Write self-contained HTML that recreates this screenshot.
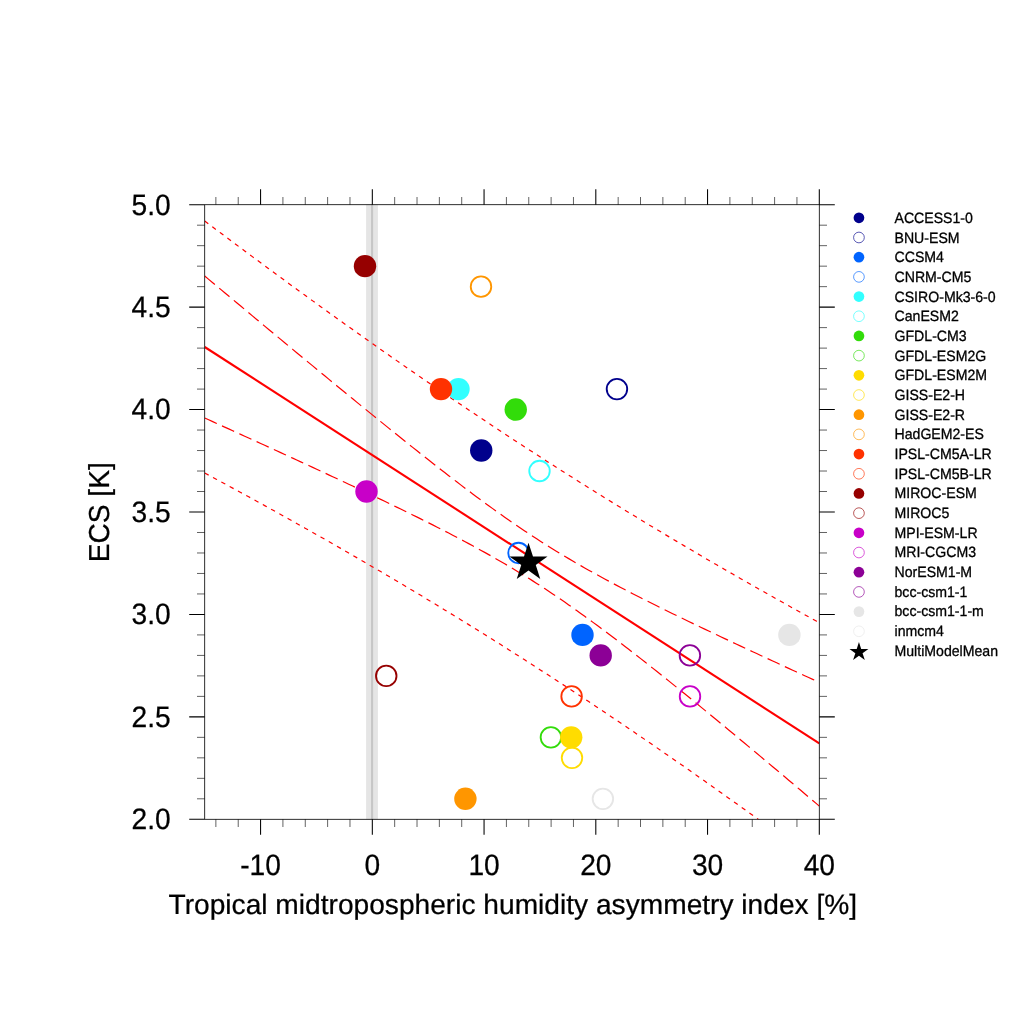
<!DOCTYPE html>
<html><head><meta charset="utf-8"><title>ECS scatter</title>
<style>html,body{margin:0;padding:0;background:#fff;overflow:hidden}svg{display:block;will-change:transform}text{font-family:"Liberation Sans",sans-serif;fill:#000;text-rendering:geometricPrecision}</style></head><body>
<svg width="1024" height="1024" viewBox="0 0 1024 1024">
<rect width="1024" height="1024" fill="#fff"/>
<rect x="366.1" y="204.7" width="11.8" height="614.6" fill="#e5e5e5"/>
<rect x="371.05" y="204.7" width="2.1" height="614.6" fill="#c6c6c6"/>
<defs><clipPath id="c"><rect x="204.7" y="204.7" width="614.6" height="614.6"/></clipPath></defs>
<g clip-path="url(#c)" fill="none" stroke="#ff0000">
<path d="M204.70,221.02 L208.70,224.03 L212.70,227.04 L216.70,230.04 L220.70,233.04 L224.70,236.03 L228.70,239.03 L232.70,242.01 L236.70,245.00 L240.70,247.98 L244.70,250.95 L248.70,253.92 L252.70,256.89 L256.70,259.85 L260.70,262.81 L264.70,265.77 L268.70,268.72 L272.70,271.66 L276.70,274.61 L280.70,277.54 L284.70,280.48 L288.70,283.40 L292.70,286.33 L296.70,289.25 L300.70,292.16 L304.70,295.07 L308.70,297.98 L312.70,300.88 L316.70,303.77 L320.70,306.66 L324.70,309.55 L328.70,312.43 L332.70,315.31 L336.70,318.18 L340.70,321.05 L344.70,323.91 L348.70,326.76 L352.70,329.61 L356.70,332.46 L360.70,335.30 L364.70,338.14 L368.70,340.97 L372.70,343.79 L376.70,346.61 L380.70,349.43 L384.70,352.23 L388.70,355.04 L392.70,357.84 L396.70,360.63 L400.70,363.42 L404.70,366.20 L408.70,368.97 L412.70,371.74 L416.70,374.51 L420.70,377.27 L424.70,380.02 L428.70,382.77 L432.70,385.51 L436.70,388.24 L440.70,390.97 L444.70,393.70 L448.70,396.42 L452.70,399.13 L456.70,401.84 L460.70,404.54 L464.70,407.23 L468.70,409.92 L472.70,412.60 L476.70,415.28 L480.70,417.95 L484.70,420.61 L488.70,423.27 L492.70,425.93 L496.70,428.57 L500.70,431.21 L504.70,433.85 L508.70,436.48 L512.70,439.10 L516.70,441.71 L520.70,444.32 L524.70,446.93 L528.70,449.53 L532.70,452.12 L536.70,454.70 L540.70,457.28 L544.70,459.85 L548.70,462.42 L552.70,464.98 L556.70,467.54 L560.70,470.09 L564.70,472.63 L568.70,475.16 L572.70,477.69 L576.70,480.22 L580.70,482.74 L584.70,485.25 L588.70,487.75 L592.70,490.25 L596.70,492.75 L600.70,495.24 L604.70,497.72 L608.70,500.19 L612.70,502.66 L616.70,505.13 L620.70,507.58 L624.70,510.04 L628.70,512.48 L632.70,514.92 L636.70,517.36 L640.70,519.78 L644.70,522.21 L648.70,524.62 L652.70,527.04 L656.70,529.44 L660.70,531.84 L664.70,534.23 L668.70,536.62 L672.70,539.01 L676.70,541.38 L680.70,543.75 L684.70,546.12 L688.70,548.48 L692.70,550.84 L696.70,553.19 L700.70,555.53 L704.70,557.87 L708.70,560.20 L712.70,562.53 L716.70,564.85 L720.70,567.17 L724.70,569.48 L728.70,571.79 L732.70,574.09 L736.70,576.39 L740.70,578.68 L744.70,580.97 L748.70,583.25 L752.70,585.53 L756.70,587.80 L760.70,590.07 L764.70,592.33 L768.70,594.59 L772.70,596.85 L776.70,599.10 L780.70,601.34 L784.70,603.58 L788.70,605.81 L792.70,608.04 L796.70,610.27 L800.70,612.49 L804.70,614.71 L808.70,616.92 L812.70,619.13 L816.70,621.33 L819.30,622.76" stroke-width="1.2" stroke-dasharray="4.5 4.95"/>
<path d="M204.70,472.98 L208.70,475.13 L212.70,477.28 L216.70,479.44 L220.70,481.60 L224.70,483.76 L228.70,485.93 L232.70,488.11 L236.70,490.28 L240.70,492.46 L244.70,494.65 L248.70,496.83 L252.70,499.03 L256.70,501.22 L260.70,503.42 L264.70,505.63 L268.70,507.84 L272.70,510.05 L276.70,512.27 L280.70,514.49 L284.70,516.72 L288.70,518.95 L292.70,521.19 L296.70,523.43 L300.70,525.67 L304.70,527.92 L308.70,530.18 L312.70,532.44 L316.70,534.70 L320.70,536.97 L324.70,539.24 L328.70,541.52 L332.70,543.81 L336.70,546.09 L340.70,548.39 L344.70,550.69 L348.70,552.99 L352.70,555.30 L356.70,557.61 L360.70,559.93 L364.70,562.25 L368.70,564.58 L372.70,566.92 L376.70,569.26 L380.70,571.60 L384.70,573.96 L388.70,576.31 L392.70,578.67 L396.70,581.04 L400.70,583.41 L404.70,585.79 L408.70,588.18 L412.70,590.57 L416.70,592.96 L420.70,595.36 L424.70,597.77 L428.70,600.18 L432.70,602.60 L436.70,605.02 L440.70,607.45 L444.70,609.89 L448.70,612.33 L452.70,614.78 L456.70,617.23 L460.70,619.69 L464.70,622.15 L468.70,624.63 L472.70,627.10 L476.70,629.59 L480.70,632.07 L484.70,634.57 L488.70,637.07 L492.70,639.58 L496.70,642.09 L500.70,644.61 L504.70,647.14 L508.70,649.67 L512.70,652.21 L516.70,654.75 L520.70,657.30 L524.70,659.85 L528.70,662.42 L532.70,664.99 L536.70,667.56 L540.70,670.14 L544.70,672.73 L548.70,675.32 L552.70,677.92 L556.70,680.52 L560.70,683.14 L564.70,685.75 L568.70,688.38 L572.70,691.01 L576.70,693.64 L580.70,696.28 L584.70,698.93 L588.70,701.58 L592.70,704.24 L596.70,706.91 L600.70,709.58 L604.70,712.26 L608.70,714.95 L612.70,717.64 L616.70,720.33 L620.70,723.03 L624.70,725.74 L628.70,728.45 L632.70,731.17 L636.70,733.90 L640.70,736.63 L644.70,739.37 L648.70,742.11 L652.70,744.86 L656.70,747.61 L660.70,750.37 L664.70,753.14 L668.70,755.91 L672.70,758.69 L676.70,761.47 L680.70,764.26 L684.70,767.05 L688.70,769.85 L692.70,772.66 L696.70,775.47 L700.70,778.28 L704.70,781.10 L708.70,783.93 L712.70,786.76 L716.70,789.60 L720.70,792.44 L724.70,795.29 L728.70,798.14 L732.70,801.00 L736.70,803.86 L740.70,806.73 L744.70,809.60 L748.70,812.48 L752.70,815.36 L756.70,818.25 L760.70,821.14 L764.70,824.03 L768.70,826.94 L772.70,829.84 L776.70,832.75 L780.70,835.67 L784.70,838.59 L788.70,841.51 L792.70,844.44 L796.70,847.38 L800.70,850.32 L804.70,853.26 L808.70,856.20 L812.70,859.16 L816.70,862.11 L819.30,864.04" stroke-width="1.2" stroke-dasharray="4.5 4.95"/>
<path d="M204.70,276.00 L208.70,279.35 L212.70,282.69 L216.70,286.04 L220.70,289.38 L224.70,292.72 L228.70,296.07 L232.70,299.41 L236.70,302.75 L240.70,306.08 L244.70,309.42 L248.70,312.76 L252.70,316.09 L256.70,319.43 L260.70,322.76 L264.70,326.09 L268.70,329.42 L272.70,332.74 L276.70,336.07 L280.70,339.39 L284.70,342.72 L288.70,346.04 L292.70,349.35 L296.70,352.67 L300.70,355.98 L304.70,359.30 L308.70,362.61 L312.70,365.91 L316.70,369.22 L320.70,372.52 L324.70,375.82 L328.70,379.12 L332.70,382.41 L336.70,385.70 L340.70,388.99 L344.70,392.27 L348.70,395.55 L352.70,398.83 L356.70,402.10 L360.70,405.37 L364.70,408.63 L368.70,411.89 L372.70,415.15 L376.70,418.40 L380.70,421.64 L384.70,424.88 L388.70,428.12 L392.70,431.34 L396.70,434.57 L400.70,437.78 L404.70,440.99 L408.70,444.19 L412.70,447.38 L416.70,450.56 L420.70,453.73 L424.70,456.90 L428.70,460.05 L432.70,463.20 L436.70,466.33 L440.70,469.45 L444.70,472.56 L448.70,475.66 L452.70,478.74 L456.70,481.81 L460.70,484.86 L464.70,487.90 L468.70,490.92 L472.70,493.92 L476.70,496.90 L480.70,499.87 L484.70,502.81 L488.70,505.73 L492.70,508.63 L496.70,511.51 L500.70,514.36 L504.70,517.19 L508.70,519.99 L512.70,522.77 L516.70,525.52 L520.70,528.24 L524.70,530.93 L528.70,533.59 L532.70,536.23 L536.70,538.84 L540.70,541.41 L544.70,543.96 L548.70,546.48 L552.70,548.97 L556.70,551.43 L560.70,553.86 L564.70,556.27 L568.70,558.64 L572.70,561.00 L576.70,563.32 L580.70,565.62 L584.70,567.90 L588.70,570.16 L592.70,572.39 L596.70,574.60 L600.70,576.79 L604.70,578.96 L608.70,581.12 L612.70,583.25 L616.70,585.37 L620.70,587.48 L624.70,589.57 L628.70,591.64 L632.70,593.70 L636.70,595.75 L640.70,597.78 L644.70,599.81 L648.70,601.82 L652.70,603.82 L656.70,605.82 L660.70,607.80 L664.70,609.78 L668.70,611.74 L672.70,613.70 L676.70,615.65 L680.70,617.60 L684.70,619.53 L688.70,621.47 L692.70,623.39 L696.70,625.31 L700.70,627.22 L704.70,629.13 L708.70,631.04 L712.70,632.94 L716.70,634.83 L720.70,636.72 L724.70,638.61 L728.70,640.49 L732.70,642.37 L736.70,644.24 L740.70,646.11 L744.70,647.98 L748.70,649.85 L752.70,651.71 L756.70,653.57 L760.70,655.43 L764.70,657.28 L768.70,659.13 L772.70,660.98 L776.70,662.83 L780.70,664.67 L784.70,666.52 L788.70,668.36 L792.70,670.20 L796.70,672.04 L800.70,673.87 L804.70,675.70 L808.70,677.54 L812.70,679.37 L816.70,681.20 L819.30,682.38" stroke-width="1.2" stroke-dasharray="13.3 5.7"/>
<path d="M204.70,418.00 L208.70,419.81 L212.70,421.63 L216.70,423.44 L220.70,425.26 L224.70,427.08 L228.70,428.89 L232.70,430.71 L236.70,432.53 L240.70,434.35 L244.70,436.18 L248.70,438.00 L252.70,439.83 L256.70,441.65 L260.70,443.48 L264.70,445.31 L268.70,447.14 L272.70,448.97 L276.70,450.81 L280.70,452.64 L284.70,454.48 L288.70,456.32 L292.70,458.16 L296.70,460.00 L300.70,461.85 L304.70,463.70 L308.70,465.55 L312.70,467.40 L316.70,469.26 L320.70,471.11 L324.70,472.97 L328.70,474.84 L332.70,476.70 L336.70,478.57 L340.70,480.44 L344.70,482.32 L348.70,484.20 L352.70,486.08 L356.70,487.97 L360.70,489.86 L364.70,491.76 L368.70,493.66 L372.70,495.56 L376.70,497.47 L380.70,499.39 L384.70,501.31 L388.70,503.23 L392.70,505.16 L396.70,507.10 L400.70,509.05 L404.70,511.00 L408.70,512.96 L412.70,514.93 L416.70,516.91 L420.70,518.89 L424.70,520.89 L428.70,522.89 L432.70,524.91 L436.70,526.94 L440.70,528.97 L444.70,531.03 L448.70,533.09 L452.70,535.17 L456.70,537.26 L460.70,539.37 L464.70,541.49 L468.70,543.63 L472.70,545.79 L476.70,547.96 L480.70,550.16 L484.70,552.37 L488.70,554.61 L492.70,556.87 L496.70,559.16 L500.70,561.46 L504.70,563.79 L508.70,566.15 L512.70,568.54 L516.70,570.95 L520.70,573.39 L524.70,575.85 L528.70,578.35 L532.70,580.87 L536.70,583.43 L540.70,586.01 L544.70,588.62 L548.70,591.26 L552.70,593.93 L556.70,596.63 L560.70,599.36 L564.70,602.11 L568.70,604.90 L572.70,607.70 L576.70,610.54 L580.70,613.40 L584.70,616.28 L588.70,619.18 L592.70,622.11 L596.70,625.06 L600.70,628.03 L604.70,631.01 L608.70,634.02 L612.70,637.04 L616.70,640.08 L620.70,643.14 L624.70,646.21 L628.70,649.30 L632.70,652.40 L636.70,655.52 L640.70,658.65 L644.70,661.79 L648.70,664.95 L652.70,668.12 L656.70,671.29 L660.70,674.48 L664.70,677.68 L668.70,680.89 L672.70,684.11 L676.70,687.34 L680.70,690.57 L684.70,693.82 L688.70,697.07 L692.70,700.33 L696.70,703.59 L700.70,706.87 L704.70,710.14 L708.70,713.43 L712.70,716.72 L716.70,720.02 L720.70,723.32 L724.70,726.63 L728.70,729.95 L732.70,733.26 L736.70,736.59 L740.70,739.92 L744.70,743.25 L748.70,746.59 L752.70,749.93 L756.70,753.27 L760.70,756.62 L764.70,759.98 L768.70,763.34 L772.70,766.70 L776.70,770.06 L780.70,773.43 L784.70,776.80 L788.70,780.18 L792.70,783.56 L796.70,786.94 L800.70,790.32 L804.70,793.71 L808.70,797.10 L812.70,800.50 L816.70,803.89 L819.30,806.10" stroke-width="1.2" stroke-dasharray="13.3 5.7"/>
<path d="M204.7,347.0 L819.3,743.4" stroke-width="2.1"/>
</g>
<g>
<circle cx="481.25" cy="450.54" r="11.2" fill="#00008c"/>
<circle cx="616.95" cy="389.08" r="10.25" fill="none" stroke="#00008c" stroke-width="1.85"/>
<circle cx="582.5" cy="634.92" r="11.2" fill="#0064ff"/>
<circle cx="518.5" cy="552.97" r="10.25" fill="none" stroke="#0064ff" stroke-width="1.85"/>
<circle cx="458.5" cy="389.08" r="11.2" fill="#32ffff"/>
<circle cx="539.5" cy="471.03" r="10.25" fill="none" stroke="#32ffff" stroke-width="1.85"/>
<circle cx="515.75" cy="409.57" r="11.2" fill="#32dc0a"/>
<circle cx="550.9" cy="737.35" r="10.25" fill="none" stroke="#32dc0a" stroke-width="1.85"/>
<circle cx="571.2" cy="737.35" r="11.2" fill="#ffdc00"/>
<circle cx="572.0" cy="757.84" r="10.25" fill="none" stroke="#ffdc00" stroke-width="1.85"/>
<circle cx="465.4" cy="798.81" r="11.2" fill="#ff9600"/>
<circle cx="481.0" cy="286.65" r="10.25" fill="none" stroke="#ff9600" stroke-width="1.85"/>
<circle cx="441.0" cy="389.08" r="11.2" fill="#ff3200"/>
<circle cx="571.6" cy="696.38" r="10.25" fill="none" stroke="#ff3200" stroke-width="1.85"/>
<circle cx="365.0" cy="266.16" r="11.2" fill="#960000"/>
<circle cx="386.25" cy="675.89" r="10.25" fill="none" stroke="#960000" stroke-width="1.85"/>
<circle cx="366.5" cy="491.51" r="11.2" fill="#c800c8"/>
<circle cx="690.0" cy="696.38" r="10.25" fill="none" stroke="#c800c8" stroke-width="1.85"/>
<circle cx="600.7" cy="655.41" r="11.2" fill="#8c0096"/>
<circle cx="689.9" cy="655.41" r="10.25" fill="none" stroke="#8c0096" stroke-width="1.85"/>
<circle cx="789.4" cy="634.92" r="11.2" fill="#e6e6e6"/>
<circle cx="602.9" cy="798.81" r="10.25" fill="none" stroke="#e6e6e6" stroke-width="1.85"/>
<polygon points="528.50,542.75 532.99,556.57 547.52,556.57 535.77,565.11 540.26,578.93 528.50,570.39 516.74,578.93 521.23,565.11 509.48,556.57 524.01,556.57" fill="#000"/>
</g>
<g stroke="#000" stroke-width="0.82" fill="none" stroke-linecap="butt">
<rect x="204.7" y="204.7" width="614.6" height="614.6"/>
<path stroke-width="1.05" d="M260.57,819.3v15.5M260.57,204.7v-15.5M372.32,819.3v15.5M372.32,204.7v-15.5M484.06,819.3v15.5M484.06,204.7v-15.5M595.81,819.3v15.5M595.81,204.7v-15.5M707.55,819.3v15.5M707.55,204.7v-15.5M819.30,819.3v15.5M819.30,204.7v-15.5M204.7,819.30h-15.5M819.3,819.30h15.5M204.7,716.87h-15.5M819.3,716.87h15.5M204.7,614.43h-15.5M819.3,614.43h15.5M204.7,512.00h-15.5M819.3,512.00h15.5M204.7,409.57h-15.5M819.3,409.57h15.5M204.7,307.13h-15.5M819.3,307.13h15.5M204.7,204.70h-15.5M819.3,204.70h15.5"/>
<path stroke-width="0.62" d="M215.87,819.3v7.7M215.87,204.7v-7.7M238.22,819.3v7.7M238.22,204.7v-7.7M282.92,819.3v7.7M282.92,204.7v-7.7M305.27,819.3v7.7M305.27,204.7v-7.7M327.62,819.3v7.7M327.62,204.7v-7.7M349.97,819.3v7.7M349.97,204.7v-7.7M394.67,819.3v7.7M394.67,204.7v-7.7M417.02,819.3v7.7M417.02,204.7v-7.7M439.37,819.3v7.7M439.37,204.7v-7.7M461.71,819.3v7.7M461.71,204.7v-7.7M506.41,819.3v7.7M506.41,204.7v-7.7M528.76,819.3v7.7M528.76,204.7v-7.7M551.11,819.3v7.7M551.11,204.7v-7.7M573.46,819.3v7.7M573.46,204.7v-7.7M618.16,819.3v7.7M618.16,204.7v-7.7M640.51,819.3v7.7M640.51,204.7v-7.7M662.86,819.3v7.7M662.86,204.7v-7.7M685.21,819.3v7.7M685.21,204.7v-7.7M729.90,819.3v7.7M729.90,204.7v-7.7M752.25,819.3v7.7M752.25,204.7v-7.7M774.60,819.3v7.7M774.60,204.7v-7.7M796.95,819.3v7.7M796.95,204.7v-7.7M204.7,798.81h-7.7M819.3,798.81h7.7M204.7,778.33h-7.7M819.3,778.33h7.7M204.7,757.84h-7.7M819.3,757.84h7.7M204.7,737.35h-7.7M819.3,737.35h7.7M204.7,696.38h-7.7M819.3,696.38h7.7M204.7,675.89h-7.7M819.3,675.89h7.7M204.7,655.41h-7.7M819.3,655.41h7.7M204.7,634.92h-7.7M819.3,634.92h7.7M204.7,593.95h-7.7M819.3,593.95h7.7M204.7,573.46h-7.7M819.3,573.46h7.7M204.7,552.97h-7.7M819.3,552.97h7.7M204.7,532.49h-7.7M819.3,532.49h7.7M204.7,491.51h-7.7M819.3,491.51h7.7M204.7,471.03h-7.7M819.3,471.03h7.7M204.7,450.54h-7.7M819.3,450.54h7.7M204.7,430.05h-7.7M819.3,430.05h7.7M204.7,389.08h-7.7M819.3,389.08h7.7M204.7,368.59h-7.7M819.3,368.59h7.7M204.7,348.11h-7.7M819.3,348.11h7.7M204.7,327.62h-7.7M819.3,327.62h7.7M204.7,286.65h-7.7M819.3,286.65h7.7M204.7,266.16h-7.7M819.3,266.16h7.7M204.7,245.67h-7.7M819.3,245.67h7.7M204.7,225.19h-7.7M819.3,225.19h7.7"/>
</g>
<g font-size="28.15" stroke="#000" stroke-width="0.25">
<text transform="translate(170.60,829.10) scale(1,1.05)" text-anchor="end">2.0</text>
<text transform="translate(170.60,726.67) scale(1,1.05)" text-anchor="end">2.5</text>
<text transform="translate(170.60,624.23) scale(1,1.05)" text-anchor="end">3.0</text>
<text transform="translate(170.60,521.80) scale(1,1.05)" text-anchor="end">3.5</text>
<text transform="translate(170.60,419.37) scale(1,1.05)" text-anchor="end">4.0</text>
<text transform="translate(170.60,316.93) scale(1,1.05)" text-anchor="end">4.5</text>
<text transform="translate(170.60,214.50) scale(1,1.05)" text-anchor="end">5.0</text>
<text transform="translate(260.57,874.90) scale(1,1.05)" text-anchor="middle">-10</text>
<text transform="translate(372.32,874.90) scale(1,1.05)" text-anchor="middle">0</text>
<text transform="translate(484.06,874.90) scale(1,1.05)" text-anchor="middle">10</text>
<text transform="translate(595.81,874.90) scale(1,1.05)" text-anchor="middle">20</text>
<text transform="translate(707.55,874.90) scale(1,1.05)" text-anchor="middle">30</text>
<text transform="translate(819.30,874.90) scale(1,1.05)" text-anchor="middle">40</text>
<text transform="translate(512.80,913.90) scale(1,0.995)" text-anchor="middle">Tropical midtropospheric humidity asymmetry index [%]</text>
<text transform="translate(108.60,512.30) rotate(-90) scale(1,1.025)" text-anchor="middle">ECS [K]</text>
</g>
<g font-size="14.12" stroke-width="0.28">
<circle cx="858.95" cy="217.80" r="5.35" fill="#00008c"/>
<text stroke="#000" transform="translate(894.50,223.05) scale(1,1.055)">ACCESS1-0</text>
<circle cx="858.95" cy="237.49" r="5.35" fill="none" stroke="#00008c" stroke-width="0.65"/>
<text stroke="#000" transform="translate(894.50,242.72) scale(1,1.055)">BNU-ESM</text>
<circle cx="858.95" cy="257.18" r="5.35" fill="#0064ff"/>
<text stroke="#000" transform="translate(894.50,262.39) scale(1,1.055)">CCSM4</text>
<circle cx="858.95" cy="276.87" r="5.35" fill="none" stroke="#0064ff" stroke-width="0.65"/>
<text stroke="#000" transform="translate(894.50,282.06) scale(1,1.055)">CNRM-CM5</text>
<circle cx="858.95" cy="296.56" r="5.35" fill="#32ffff"/>
<text stroke="#000" transform="translate(894.50,301.73) scale(1,1.055)">CSIRO-Mk3-6-0</text>
<circle cx="858.95" cy="316.25" r="5.35" fill="none" stroke="#32ffff" stroke-width="0.65"/>
<text stroke="#000" transform="translate(894.50,321.40) scale(1,1.055)">CanESM2</text>
<circle cx="858.95" cy="335.94" r="5.35" fill="#32dc0a"/>
<text stroke="#000" transform="translate(894.50,341.07) scale(1,1.055)">GFDL-CM3</text>
<circle cx="858.95" cy="355.63" r="5.35" fill="none" stroke="#32dc0a" stroke-width="0.65"/>
<text stroke="#000" transform="translate(894.50,360.74) scale(1,1.055)">GFDL-ESM2G</text>
<circle cx="858.95" cy="375.32" r="5.35" fill="#ffdc00"/>
<text stroke="#000" transform="translate(894.50,380.41) scale(1,1.055)">GFDL-ESM2M</text>
<circle cx="858.95" cy="395.01" r="5.35" fill="none" stroke="#ffdc00" stroke-width="0.65"/>
<text stroke="#000" transform="translate(894.50,400.08) scale(1,1.055)">GISS-E2-H</text>
<circle cx="858.95" cy="414.70" r="5.35" fill="#ff9600"/>
<text stroke="#000" transform="translate(894.50,419.75) scale(1,1.055)">GISS-E2-R</text>
<circle cx="858.95" cy="434.39" r="5.35" fill="none" stroke="#ff9600" stroke-width="0.65"/>
<text stroke="#000" transform="translate(894.50,439.42) scale(1,1.055)">HadGEM2-ES</text>
<circle cx="858.95" cy="454.08" r="5.35" fill="#ff3200"/>
<text stroke="#000" transform="translate(894.50,459.09) scale(1,1.055)">IPSL-CM5A-LR</text>
<circle cx="858.95" cy="473.77" r="5.35" fill="none" stroke="#ff3200" stroke-width="0.65"/>
<text stroke="#000" transform="translate(894.50,478.76) scale(1,1.055)">IPSL-CM5B-LR</text>
<circle cx="858.95" cy="493.46" r="5.35" fill="#960000"/>
<text stroke="#000" transform="translate(894.50,498.43) scale(1,1.055)">MIROC-ESM</text>
<circle cx="858.95" cy="513.15" r="5.35" fill="none" stroke="#960000" stroke-width="0.65"/>
<text stroke="#000" transform="translate(894.50,518.10) scale(1,1.055)">MIROC5</text>
<circle cx="858.95" cy="532.84" r="5.35" fill="#c800c8"/>
<text stroke="#000" transform="translate(894.50,537.77) scale(1,1.055)">MPI-ESM-LR</text>
<circle cx="858.95" cy="552.53" r="5.35" fill="none" stroke="#c800c8" stroke-width="0.65"/>
<text stroke="#000" transform="translate(894.50,557.44) scale(1,1.055)">MRI-CGCM3</text>
<circle cx="858.95" cy="572.22" r="5.35" fill="#8c0096"/>
<text stroke="#000" transform="translate(894.50,577.11) scale(1,1.055)">NorESM1-M</text>
<circle cx="858.95" cy="591.91" r="5.35" fill="none" stroke="#8c0096" stroke-width="0.65"/>
<text stroke="#000" transform="translate(894.50,596.78) scale(1,1.055)">bcc-csm1-1</text>
<circle cx="858.95" cy="611.60" r="5.35" fill="#e6e6e6"/>
<text stroke="#000" transform="translate(894.50,616.45) scale(1,1.055)">bcc-csm1-1-m</text>
<circle cx="858.95" cy="631.29" r="5.35" fill="none" stroke="#e6e6e6" stroke-width="0.65"/>
<text stroke="#000" transform="translate(894.50,636.12) scale(1,1.055)">inmcm4</text>
<polygon points="858.95,642.03 861.18,648.91 868.41,648.91 862.56,653.15 864.80,660.03 858.95,655.78 853.10,660.03 855.34,653.15 849.49,648.91 856.72,648.91" fill="#000"/>
<text stroke="#000" transform="translate(894.50,655.79) scale(1,1.055)">MultiModelMean</text>
</g>
</svg></body></html>
